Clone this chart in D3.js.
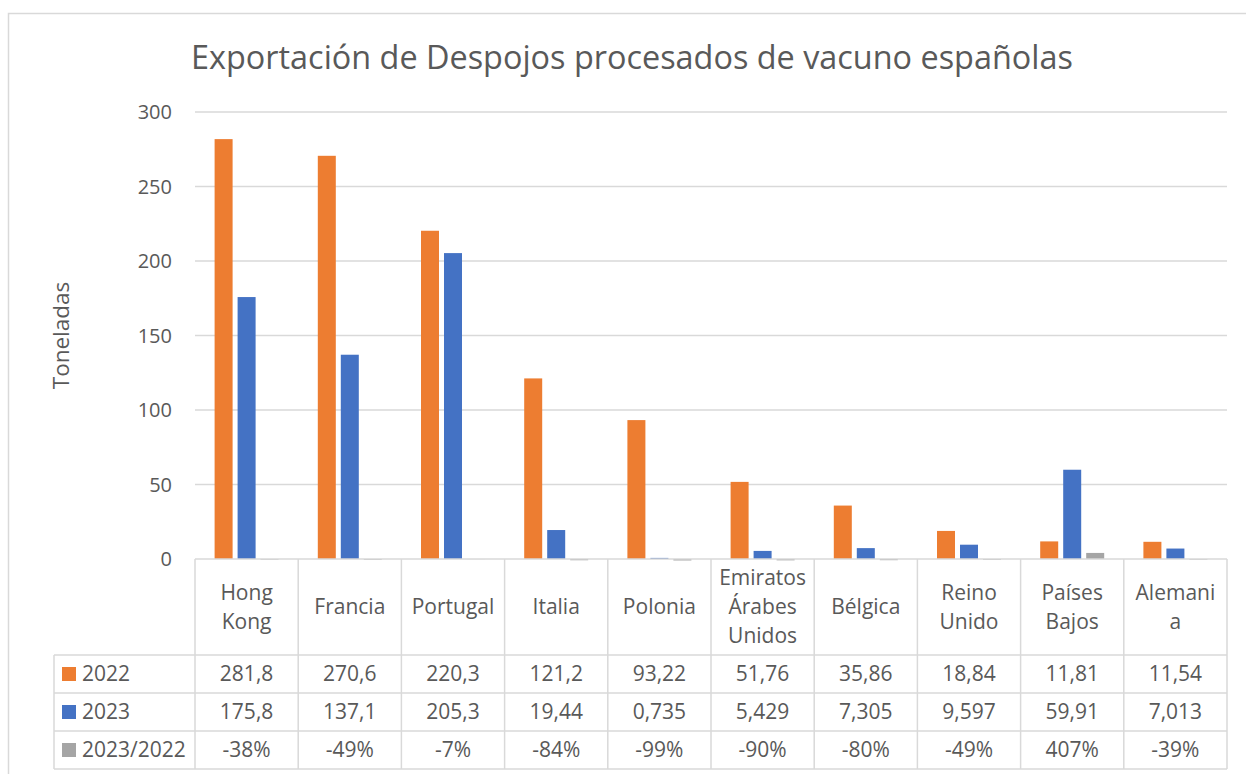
<!DOCTYPE html>
<html>
<head>
<meta charset="utf-8">
<script src="https://cdn.jsdelivr.net/npm/d3@7"></script>
<style>
  body { margin: 0; background: #fff; }
  svg { display: block; font-family: "Open Sans", sans-serif; }
  text { fill: #595959; }
</style>
</head>
<body>
<div id="chart"></div>
<script>
// data
const categories = ["Hong Kong", "Francia", "Portugal", "Italia", "Polonia",
  "Emiratos Árabes Unidos", "Bélgica", "Reino Unido", "Países Bajos", "Alemania"];
// as wrapped in the table header
const categoryLines = [["Hong", "Kong"], ["Francia"], ["Portugal"], ["Italia"], ["Polonia"],
  ["Emiratos", "Árabes", "Unidos"], ["Bélgica"], ["Reino", "Unido"], ["Países", "Bajos"], ["Alemani", "a"]];
const series = ["2022", "2023", "2023/2022"];
const values2022 = [281.8, 270.6, 220.3, 121.2, 93.22, 51.76, 35.86, 18.84, 11.81, 11.54];
const values2023 = [175.8, 137.1, 205.3, 19.44, 0.735, 5.429, 7.305, 9.597, 59.91, 7.013];
const ratio = [-0.38, -0.49, -0.07, -0.84, -0.99, -0.90, -0.80, -0.49, 4.07, -0.39];
const yTicks = [0, 50, 100, 150, 200, 250, 300];
const colors = ["#ED7D31", "#4472C4", "#A5A5A5"];

const rows = [values2022, values2023, ratio];

const width = 1246, height = 774;
const plot = { left: 195, right: 1227, top: 112, bottom: 559 };
const legendLeft = 54;
const headerBottom = 655;
const rowH = 38;
const grid = "#d9d9d9";

const loc = d3.formatLocale({ decimal: ",", thousands: ".", grouping: [3], currency: ["", "€"], minus: "-" });
const fmtNum = loc.format(".4");
const fmtPct = loc.format(".0%");
const fmts = [fmtNum, fmtNum, fmtPct];

const svg = d3.select("#chart").append("svg")
  .attr("width", width)
  .attr("height", height);

// chart frame
svg.append("rect")
  .attr("x", 8.5).attr("y", 13.5)
  .attr("width", 1300).attr("height", 800)
  .attr("fill", "#fff")
  .attr("stroke", grid)
  .attr("stroke-width", 1.5);

// scales
const x = d3.scaleBand().domain(categories).range([plot.left, plot.right]);
const bw = x.bandwidth();
const xSub = d3.scaleBand().domain(series)
  .range([bw / 2 - 32, bw / 2 + 32])
  .paddingInner(5 / 23);
const y = d3.scaleLinear().domain([0, 300]).range([plot.bottom, plot.top]);

// title
svg.append("text")
  .attr("x", 632).attr("y", 69)
  .attr("text-anchor", "middle")
  .style("font-size", "32.4px")
  .text("Exportación de Despojos procesados de vacuno españolas");

// gridlines
svg.append("g")
  .selectAll("line")
  .data(yTicks.filter(d => d > 0))
  .join("line")
  .attr("x1", plot.left).attr("x2", plot.right)
  .attr("y1", d => y(d)).attr("y2", d => y(d))
  .attr("stroke", grid)
  .attr("stroke-width", 1.5);

// y axis labels
svg.append("g")
  .selectAll("text")
  .data(yTicks)
  .join("text")
  .attr("x", 172)
  .attr("y", d => y(d))
  .attr("dy", "0.35em")
  .attr("text-anchor", "end")
  .style("font-size", "20px")
  .text(d => d);

svg.append("text")
  .attr("transform", `translate(69,${(plot.top + plot.bottom) / 2}) rotate(-90)`)
  .attr("text-anchor", "middle")
  .style("font-size", "22.5px")
  .text("Toneladas");

// bars
const bars = svg.append("g");
rows.forEach((vals, si) => {
  bars.selectAll(".s" + si)
    .data(vals)
    .join("rect")
    .attr("class", "s" + si)
    .attr("x", (d, i) => x(categories[i]) + xSub(series[si]))
    .attr("width", xSub.bandwidth())
    .attr("y", d => Math.min(y(d), y(0)))
    .attr("height", d => Math.abs(y(d) - y(0)))
    .attr("fill", colors[si]);
});

// data table
const table = svg.append("g");
const hLines = [
  { y: plot.bottom, x1: plot.left },
  { y: headerBottom, x1: legendLeft },
  { y: headerBottom + rowH, x1: legendLeft },
  { y: headerBottom + 2 * rowH, x1: legendLeft },
  { y: headerBottom + 3 * rowH, x1: legendLeft }
];
table.selectAll(".h")
  .data(hLines)
  .join("line")
  .attr("x1", d => d.x1).attr("x2", plot.right)
  .attr("y1", d => d.y).attr("y2", d => d.y)
  .attr("stroke", grid).attr("stroke-width", 1.5);

const vxs = categories.map(c => x(c)).concat([plot.right]);
table.selectAll(".v")
  .data(vxs)
  .join("line")
  .attr("x1", d => d).attr("x2", d => d)
  .attr("y1", plot.bottom).attr("y2", headerBottom + 3 * rowH)
  .attr("stroke", grid).attr("stroke-width", 1.5);
table.append("line")
  .attr("x1", legendLeft).attr("x2", legendLeft)
  .attr("y1", headerBottom).attr("y2", headerBottom + 3 * rowH)
  .attr("stroke", grid).attr("stroke-width", 1.5);

// header labels
const headerMid = (plot.bottom + headerBottom) / 2;
const lineH = 29;
categoryLines.forEach((lines, i) => {
  const t = table.append("text")
    .attr("text-anchor", "middle")
    .style("font-size", "21px");
  lines.forEach((ln, j) => {
    t.append("tspan")
      .attr("x", x(categories[i]) + bw / 2)
      .attr("y", headerMid + (j - (lines.length - 1) / 2) * lineH)
      .attr("dy", "0.35em")
      .text(ln);
  });
});

// rows
rows.forEach((vals, si) => {
  const cy = headerBottom + si * rowH + rowH / 2;
  table.append("rect")
    .attr("x", 62).attr("y", cy - 7)
    .attr("width", 14).attr("height", 14)
    .attr("fill", colors[si]);
  table.append("text")
    .attr("x", 82).attr("y", cy)
    .attr("dy", "0.35em")
    .style("font-size", "21px")
    .text(series[si]);
  table.selectAll(".r" + si)
    .data(vals)
    .join("text")
    .attr("class", "r" + si)
    .attr("x", (d, i) => x(categories[i]) + bw / 2)
    .attr("y", cy)
    .attr("dy", "0.35em")
    .attr("text-anchor", "middle")
    .style("font-size", "21px")
    .text(d => fmts[si](d));
});
</script>
</body>
</html>
